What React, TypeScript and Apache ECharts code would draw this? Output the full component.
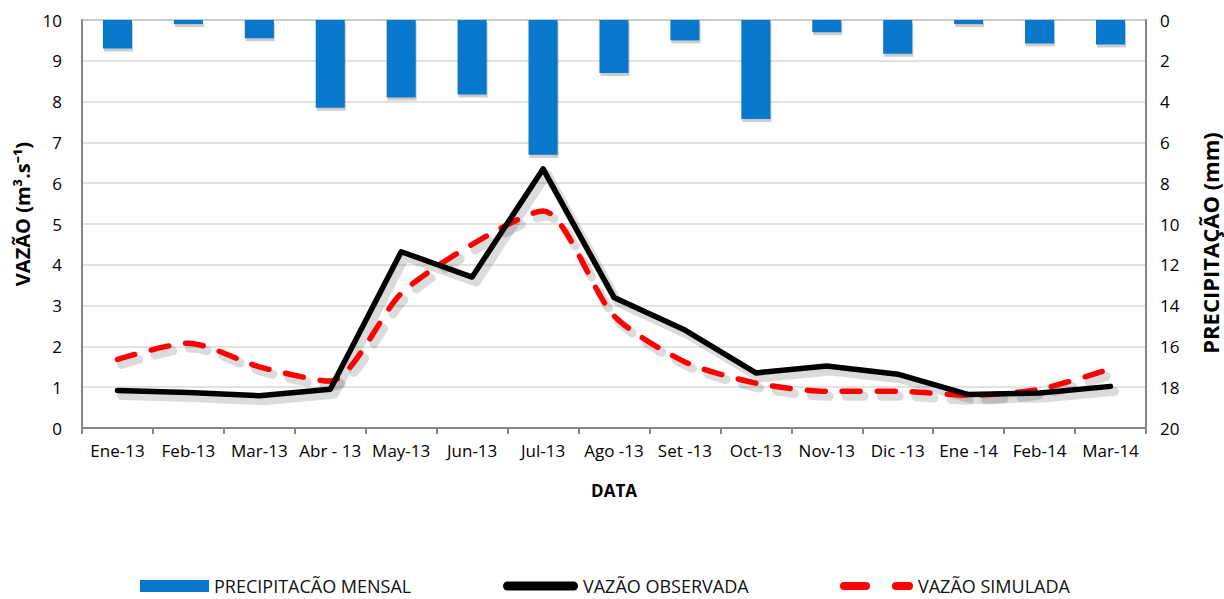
import React, { useEffect, useRef } from "react";
import * as echarts from "echarts";

const categories = ["Ene-13", "Feb-13", "Mar-13", "Abr - 13", "May-13", "Jun-13", "Jul-13", "Ago -13", "Set -13", "Oct-13", "Nov-13", "Dic -13", "Ene -14", "Feb-14", "Mar-14"];
const precipitacao = [1.4, 0.2, 0.9, 4.3, 3.8, 3.65, 6.6, 2.6, 1.0, 4.85, 0.6, 1.65, 0.2, 1.15, 1.2];
const vazaoObservada = [0.92, 0.87, 0.79, 0.95, 4.32, 3.7, 6.35, 3.2, 2.4, 1.35, 1.52, 1.32, 0.82, 0.86, 1.02];
const vazaoSimulada = [1.68, 2.08, 1.5, 1.15, 3.3, 4.5, 5.32, 2.75, 1.62, 1.1, 0.9, 0.9, 0.8, 0.95, 1.45];

const FONT = "'Open Sans', 'Noto Sans', sans-serif";
const DASH = [18, 17];

export default function App() {
  const ref = useRef<HTMLDivElement>(null);
  useEffect(() => {
    if (!ref.current) return;
    const chart = echarts.init(ref.current, undefined, { renderer: "svg" });
    const legendText = { fontFamily: FONT, fontSize: 18, lineHeight: 20, color: "#111" };
    const hiddenCat = (gridIndex: number) => ({ type: "category", data: categories, gridIndex, show: false, boundaryGap: true });
    chart.setOption({
      animation: false,
      backgroundColor: "#ffffff",
      textStyle: { fontFamily: FONT },
      grid: [
        { left: 82, right: 78, top: 20, bottom: 171, show: true, borderColor: "#868686", borderWidth: 1.5 },
        { left: 86, right: 74, top: 25, bottom: 166 },
        { left: 83, right: 77, top: 23, bottom: 168 },
      ],
      legend: [
        {
          left: 140,
          top: 576,
          padding: 0,
          itemWidth: 69,
          itemHeight: 12,
          itemGap: 6,
          textStyle: legendText,
          data: [{ name: "PRECIPITACÃO MENSAL", icon: "rect" }],
        },
        {
          left: 503,
          top: 576,
          padding: 0,
          itemWidth: 75,
          itemHeight: 9,
          textStyle: legendText,
          data: [
            {
              name: "VAZÃO OBSERVADA",
              icon: "path://M4.5,0 H70.5 A4.5,4.5 0 0 1 70.5,9 H4.5 A4.5,4.5 0 0 1 4.5,0 Z",
              itemStyle: { color: "#000000", borderWidth: 0 },
              lineStyle: { width: 0 },
            },
          ],
        },
        {
          left: 840,
          top: 576,
          padding: 0,
          itemWidth: 73,
          itemHeight: 8,
          textStyle: legendText,
          data: [
            {
              name: "VAZÃO SIMULADA",
              icon: "path://M4,0 H26 A4,4 0 0 1 26,8 H4 A4,4 0 0 1 4,0 Z M56,0 H69 A4,4 0 0 1 69,8 H56 A4,4 0 0 1 56,0 Z",
              itemStyle: { color: "#ff0000", borderWidth: 0 },
              lineStyle: { width: 0 },
            },
          ],
        },
      ],
      graphic: [
        {
          type: "text",
          x: 22,
          y: 214,
          rotation: Math.PI / 2,
          style: { text: "VAZÃO (m³.s⁻¹)", font: "bold 20px 'Open Sans', sans-serif", fill: "#000", align: "center", verticalAlign: "middle" },
        },
        {
          type: "text",
          x: 1210,
          y: 243,
          rotation: Math.PI / 2,
          style: { text: "PRECIPITAÇÃO (mm)", font: "bold 22px 'Open Sans', sans-serif", fill: "#000", align: "center", verticalAlign: "middle" },
        },
      ],
      xAxis: [
        {
          type: "category",
          data: categories,
          gridIndex: 0,
          boundaryGap: true,
          name: "DATA",
          nameLocation: "middle",
          nameGap: 54,
          nameTextStyle: { fontWeight: "bold", fontSize: 17, color: "#000", fontFamily: FONT },
          axisLine: { lineStyle: { color: "#868686", width: 2 } },
          axisTick: { show: true, length: 6, lineStyle: { color: "#868686", width: 2 } },
          axisLabel: { fontSize: 17, color: "#000", margin: 14, interval: 0, fontFamily: FONT },
          splitLine: { show: false },
        },
        hiddenCat(1),
        hiddenCat(2),
      ],
      yAxis: [
        {
          type: "value",
          gridIndex: 0,
          min: 0,
          max: 10,
          interval: 1,
          axisLine: { show: true, lineStyle: { color: "#868686", width: 2 } },
          axisTick: { show: false },
          axisLabel: { fontSize: 17, color: "#000", margin: 20, fontFamily: FONT },
          splitLine: { show: true, lineStyle: { color: "#d9d9d9", width: 1.5 } },
        },
        {
          type: "value",
          gridIndex: 0,
          min: 0,
          max: 20,
          interval: 2,
          inverse: true,
          position: "right",
          axisLine: { show: true, lineStyle: { color: "#868686", width: 2 } },
          axisTick: { show: false },
          axisLabel: { fontSize: 17, color: "#000", margin: 14, fontFamily: FONT },
          splitLine: { show: false },
        },
        { type: "value", gridIndex: 1, min: 0, max: 10, show: false, splitLine: { show: false } },
        { type: "value", gridIndex: 2, min: 0, max: 20, inverse: true, show: false, splitLine: { show: false } },
      ],
      series: [
        {
          name: "sombra-precipitacao",
          type: "bar",
          xAxisIndex: 2,
          yAxisIndex: 3,
          data: precipitacao,
          barWidth: "41%",
          z: 1,
          silent: true,
          itemStyle: { color: "rgba(0,0,0,0.2)" },
        },
        {
          name: "sombra-simulada",
          type: "line",
          xAxisIndex: 1,
          yAxisIndex: 2,
          data: vazaoSimulada,
          smooth: 0.25,
          symbol: "none",
          z: 1,
          silent: true,
          lineStyle: { color: "rgba(0,0,0,0.14)", width: 9, type: DASH, cap: "round" },
        },
        {
          name: "sombra-observada",
          type: "line",
          xAxisIndex: 1,
          yAxisIndex: 2,
          data: vazaoObservada,
          symbol: "none",
          z: 1,
          silent: true,
          lineStyle: { color: "rgba(0,0,0,0.14)", width: 9, cap: "round", join: "round" },
        },
        {
          name: "PRECIPITACÃO MENSAL",
          type: "bar",
          xAxisIndex: 0,
          yAxisIndex: 1,
          data: precipitacao,
          barWidth: "41%",
          z: 2,
          itemStyle: { color: "#0778cb" },
        },
        {
          name: "VAZÃO SIMULADA",
          type: "line",
          xAxisIndex: 0,
          yAxisIndex: 0,
          data: vazaoSimulada,
          smooth: 0.25,
          symbol: "none",
          z: 3,
          itemStyle: { color: "#ff0000" },
          lineStyle: { color: "#ff0000", width: 5.5, type: DASH, cap: "round" },
        },
        {
          name: "VAZÃO OBSERVADA",
          type: "line",
          xAxisIndex: 0,
          yAxisIndex: 0,
          data: vazaoObservada,
          symbol: "none",
          z: 4,
          itemStyle: { color: "#000000" },
          lineStyle: { color: "#000000", width: 5.5, cap: "round", join: "round" },
        },
      ],
    });
    return () => chart.dispose();
  }, []);
  return <div ref={ref} style={{ width: 1224, height: 599, position: "absolute", left: 0, top: 0 }} />;
}
